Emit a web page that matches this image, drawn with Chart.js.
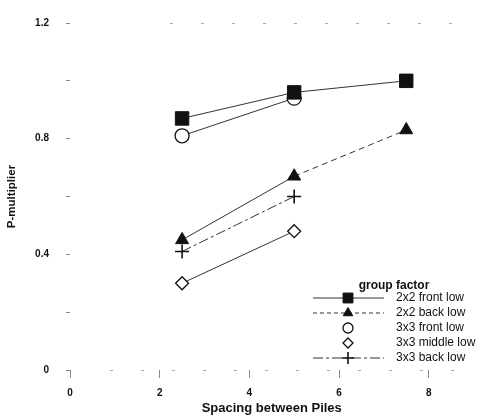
<!DOCTYPE html>
<html lang="en">
<head>
  <meta charset="UTF-8" />
  <title>P-multiplier vs spacing</title>
  <script src="https://cdn.jsdelivr.net/npm/chart.js"></script>
  <style>
    html, body { margin: 0; padding: 0; background: #fff; }
    #wrap { width: 484px; height: 419px; }
  </style>
</head>
<body>
  <div id="wrap"><canvas id="chart" width="484" height="419"></canvas></div>
  <script>
    // spacing between piles (x) and p-multipliers for each group
    const spacing = [2.5, 5, 7.5];
    const front2x2 = [0.87, 0.96, 1.0];
    const back2x2 = [0.45, 0.67, 0.83];
    const front3x3 = [0.81, 0.94];
    const middle3x3 = [0.30, 0.48];
    const back3x3 = [0.41, 0.60];

    const groupNames = ["2x2 front low", "2x2 back low", "3x3 front low", "3x3 middle low", "3x3 back low"];
    const xTicks = [0, 2, 4, 6, 8];
    const yLabelled = [0, 0.4, 0.8, 1.2];

    const ink = "#111";
    const lineInk = "#333";
    const FONT = "'Liberation Sans', Arial, sans-serif";

    function pts(ys) { return ys.map((y, i) => ({ x: spacing[i], y: y })); }

    const datasets = [
      { label: groupNames[0], data: pts(front2x2), pointStyle: "rect", pointRadius: 9.5,
        pointBackgroundColor: ink, pointBorderColor: ink, legendRadius: 7, legendLine: [] },
      { label: groupNames[1], data: pts(back2x2), pointStyle: "triangle", pointRadius: 7.5,
        pointBackgroundColor: ink, pointBorderColor: ink, legendRadius: 5.5, legendLine: [4, 3],
        segment: { borderDash: c => c.p0DataIndex === 1 ? [6, 4] : undefined } },
      { label: groupNames[2], data: pts(front3x3), pointStyle: "circle", pointRadius: 7,
        pointBackgroundColor: "#fff", pointBorderColor: ink, pointBorderWidth: 1.3, legendRadius: 5, legendLine: null },
      { label: groupNames[3], data: pts(middle3x3), pointStyle: "rectRot", pointRadius: 6.5,
        pointBackgroundColor: "#fff", pointBorderColor: ink, pointBorderWidth: 1.3, legendRadius: 5, legendLine: null },
      { label: groupNames[4], data: pts(back3x3), pointStyle: "cross", pointRadius: 7,
        pointBackgroundColor: ink, pointBorderColor: ink, pointBorderWidth: 1.6, legendRadius: 6, legendLine: [10, 3, 3, 3],
        borderDash: [10, 3, 3, 3] }
    ].map(d => Object.assign({ showLine: true, borderColor: lineInk, borderWidth: 1, fill: false }, d));

    // legend drawn inside the plot, lower right, with line sample through the marker
    const groupLegend = {
      id: "groupLegend",
      beforeDatasetsDraw(chart) {
        // faint dotted frame along the top and bottom of the plot
        const a = chart.chartArea;
        const ctx = chart.ctx;
        ctx.save();
        ctx.strokeStyle = "#aaa";
        ctx.lineWidth = 1;
        ctx.setLineDash([3, 28]);
        ctx.beginPath();
        ctx.moveTo(a.left + 100, a.top + 0.5);
        ctx.lineTo(a.right, a.top + 0.5);
        ctx.moveTo(a.left + 40, a.bottom + 0.5);
        ctx.lineTo(a.right, a.bottom + 0.5);
        ctx.stroke();
        ctx.restore();
      },
      afterDraw(chart) {
        const ctx = chart.ctx;
        ctx.save();
        ctx.fillStyle = ink;
        ctx.font = "bold 12px " + FONT;
        ctx.textAlign = "center";
        ctx.textBaseline = "middle";
        ctx.fillText("group factor", 394, 286);
        chart.data.datasets.forEach((ds, i) => {
          const y = 298 + i * 15;
          if (ds.legendLine) {
            ctx.save();
            ctx.strokeStyle = lineInk;
            ctx.lineWidth = 1;
            ctx.setLineDash(ds.legendLine);
            ctx.beginPath();
            ctx.moveTo(313, y);
            ctx.lineTo(384, y);
            ctx.stroke();
            ctx.restore();
          }
          ctx.save();
          ctx.fillStyle = ds.pointBackgroundColor;
          ctx.strokeStyle = ds.pointBorderColor;
          ctx.lineWidth = ds.pointBorderWidth || 1;
          Chart.helpers.drawPoint(ctx, {
            pointStyle: ds.pointStyle, radius: ds.legendRadius, rotation: 0,
            borderWidth: ds.pointBorderWidth || 1
          }, 348, y);
          ctx.restore();
          ctx.fillStyle = ink;
          ctx.font = "12px " + FONT;
          ctx.textAlign = "left";
          ctx.fillText(ds.label, 396, y);
        });
        ctx.restore();
      }
    };

    new Chart(document.getElementById("chart"), {
      type: "scatter",
      data: { datasets: datasets },
      plugins: [groupLegend],
      options: {
        responsive: false,
        animation: false,
        layout: { padding: { top: 18, right: 0, left: 0, bottom: 0 } },
        plugins: { legend: { display: false }, tooltip: { enabled: false } },
        scales: {
          x: {
            type: "linear", min: 0, max: 9,
            afterBuildTicks: s => { s.ticks = xTicks.map(v => ({ value: v })); },
            afterFit: s => { s.height = 49; },
            border: { display: false },
            grid: { drawOnChartArea: false, drawTicks: true, tickLength: 8, color: "#888" },
            ticks: { color: ink, padding: 9, font: { family: FONT, size: 10, weight: "bold" } },
            title: { display: true, text: "Spacing between Piles", color: ink, padding: 3,
              font: { family: FONT, size: 13, weight: "bold" } }
          },
          y: {
            min: 0, max: 1.2,
            ticks: {
              stepSize: 0.2, color: ink, padding: 17,
              font: { family: FONT, size: 10, weight: "bold" },
              callback: v => yLabelled.some(t => Math.abs(t - v) < 1e-6) ? (v === 0 ? "0" : v.toFixed(1)) : ""
            },
            afterFit: s => { s.width = 70; },
            border: { display: false },
            grid: { drawOnChartArea: false, drawTicks: true, tickLength: 4, color: "#888" },
            title: { display: true, text: "P-multiplier", color: ink, padding: 5,
              font: { family: FONT, size: 11.5, weight: "bold" } }
          }
        }
      }
    });
  </script>
</body>
</html>
